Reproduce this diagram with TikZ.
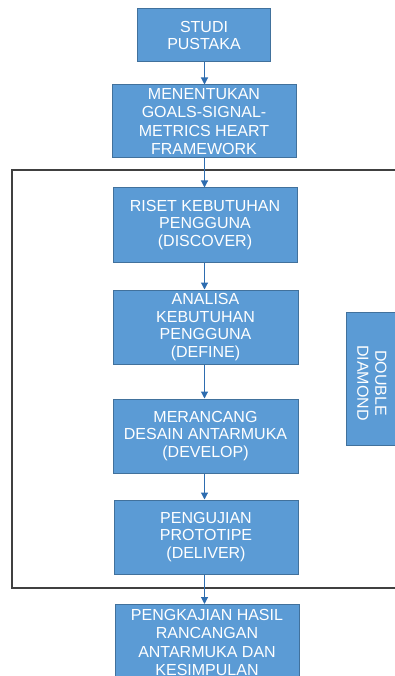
\documentclass[tikz,border=0pt]{standalone}
\usepackage{fontspec}
\setmainfont{Liberation Sans}
\usetikzlibrary{arrows.meta}
\definecolor{boxfill}{HTML}{5B9BD5}
\definecolor{boxline}{HTML}{41719C}
\definecolor{arrowc}{HTML}{2E6DB0}
\definecolor{framec}{HTML}{404040}
\tikzset{
  stepbox/.style={draw=boxline, line width=1pt, fill=boxfill, text=white, align=center,
    inner sep=0pt, font=\fontsize{16}{17.5}\selectfont},
  flow/.style={draw=arrowc, line width=1.1pt, -{Triangle[length=7pt,width=7pt]}},
}
\begin{document}
\begin{tikzpicture}[x=1pt,y=-1pt]
\useasboundingbox (0,0) rectangle (395,676);
\clip (0,0) rectangle (395,676);
% frame
\draw[framec, line width=1.4pt] (396,170) -- (12,170) -- (12,588) -- (396,588);
% boxes
\node[stepbox, minimum width=133pt, minimum height=53pt] (b1) at (204,35.5) {STUDI\\PUSTAKA};
\node[stepbox, minimum width=184pt, minimum height=73pt, font=\fontsize{16}{18.3}\selectfont] (b2) at (204,121.5) {MENENTUKAN\\GOALS-SIGNAL-\\METRICS HEART\\FRAMEWORK};
\node[stepbox, minimum width=184pt, minimum height=74pt] (b3) at (205,225) {RISET KEBUTUHAN\\PENGGUNA\\(DISCOVER)};
\node[stepbox, minimum width=185pt, minimum height=74pt] (b4) at (205.5,327) {ANALISA\\KEBUTUHAN\\PENGGUNA\\(DEFINE)};
\node[stepbox, minimum width=185pt, minimum height=74pt] (b5) at (205.5,436) {MERANCANG\\DESAIN ANTARMUKA\\(DEVELOP)};
\node[stepbox, minimum width=184pt, minimum height=74pt] (b6) at (206,537) {PENGUJIAN\\PROTOTIPE\\(DELIVER)};
\node[stepbox, minimum width=184pt, minimum height=90pt, anchor=north] (b7) at (207,604) {};
\node[text=white, align=center, inner sep=0pt, font=\fontsize{16}{18.2}\selectfont] (t7) at (207,642.5) {PENGKAJIAN HASIL\\RANCANGAN\\ANTARMUKA DAN\\KESIMPULAN};
\node[stepbox, minimum width=60pt, minimum height=133pt, anchor=north west] (dd) at (346,312) {};
\node[text=white, align=center, inner sep=0pt, rotate=-90, font=\fontsize{16}{18}\selectfont] (ddt) at (372,383) {DOUBLE\\DIAMOND};
% connectors
\coordinate (col) at (204.5,0);
\draw[flow] (b1.south -| col) -- (b2.north -| col);
\draw[flow] (b2.south -| col) -- (b3.north -| col);
\draw[flow] (b3.south -| col) -- (b4.north -| col);
\draw[flow] (b4.south -| col) -- (b5.north -| col);
\draw[flow] (b5.south -| col) -- (b6.north -| col);
\draw[flow] (b6.south -| col) -- (b7.north -| col);
\end{tikzpicture}
\end{document}
